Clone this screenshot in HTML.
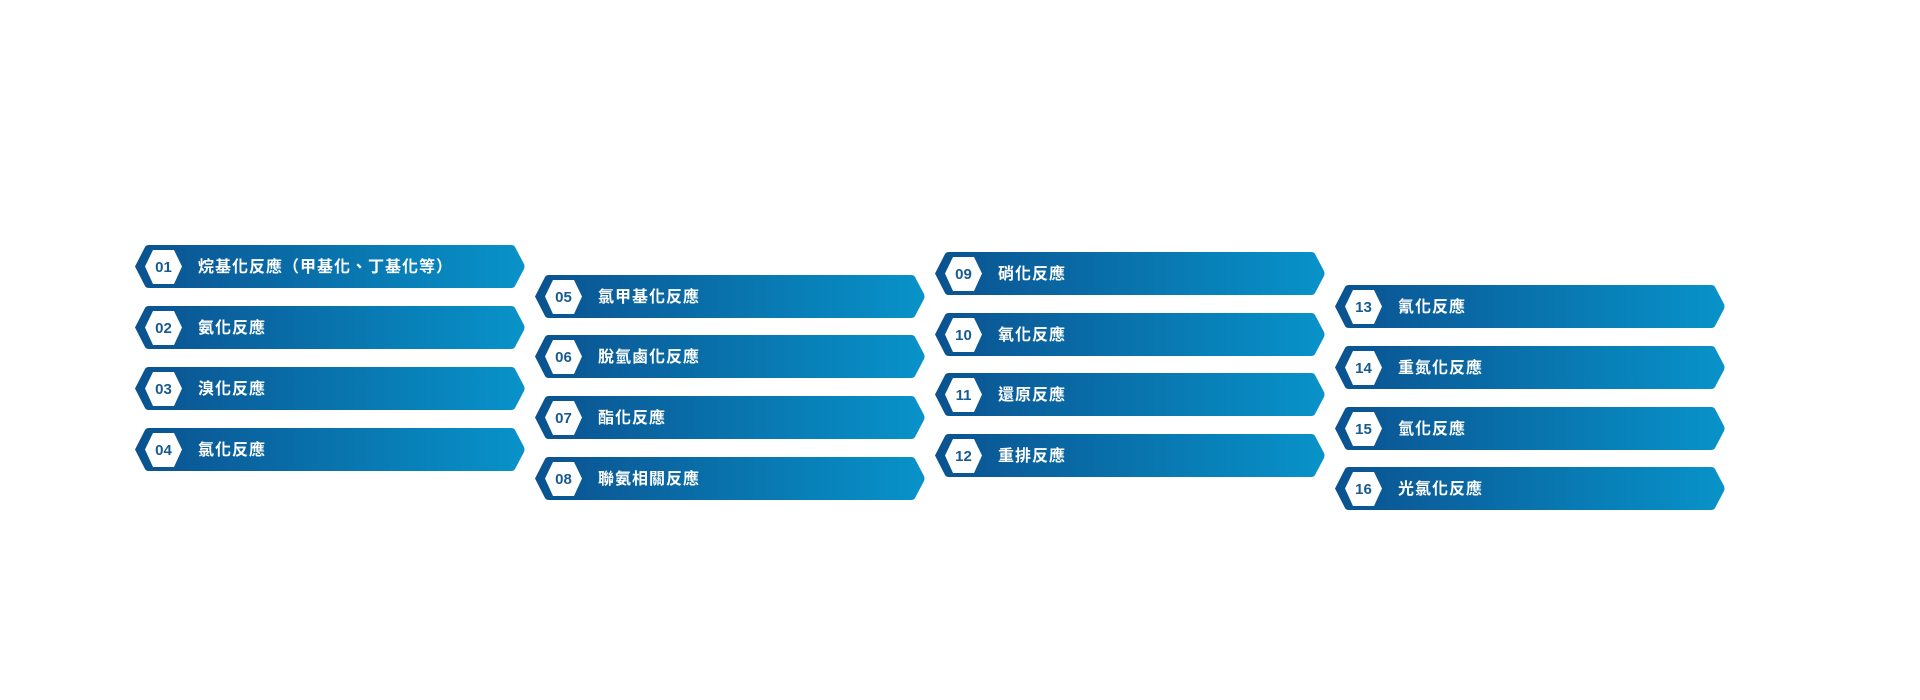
<!DOCTYPE html>
<html><head><meta charset="utf-8"><style>
html,body{margin:0;padding:0;background:#fff;width:1920px;height:700px;overflow:hidden}
svg{display:block}
.n{font-family:"Liberation Sans",sans-serif;font-weight:bold;font-size:15px;fill:#175b8e}
.t{font-family:"Liberation Sans","Noto Sans CJK TC",sans-serif;font-weight:bold;font-size:16px;fill:#fff;letter-spacing:1px}
</style></head><body>
<svg width="1920" height="700" xmlns="http://www.w3.org/2000/svg">
<defs>
<linearGradient id="g" x1="0" x2="1" y1="0" y2="0">
<stop offset="0" stop-color="#0a5290"/><stop offset="1" stop-color="#0893c9"/>
</linearGradient>
<g id="b">
<path d="M1,21.5 L11,2 Q12,0 15,0 L377,0 Q380,0 381,2 L390,19 Q391,21.5 390,24 L381,41 Q380,43 377,43 L15,43 Q12,43 11,41 Z" fill="url(#g)"/>
<path d="M11,21.5 L19,5 L40,5 L48,21.5 L40,39 L19,39 Z" fill="#fff"/>
</g>
</defs>
<g transform="translate(134,245)"><use href="#b"/><text class="n" x="29.5" y="27" text-anchor="middle">01</text><text class="t" x="64" y="27">烷基化反應（甲基化、丁基化等）</text></g>
<g transform="translate(134,306)"><use href="#b"/><text class="n" x="29.5" y="27" text-anchor="middle">02</text><text class="t" x="64" y="27">氨化反應</text></g>
<g transform="translate(134,367)"><use href="#b"/><text class="n" x="29.5" y="27" text-anchor="middle">03</text><text class="t" x="64" y="27">溴化反應</text></g>
<g transform="translate(134,428)"><use href="#b"/><text class="n" x="29.5" y="27" text-anchor="middle">04</text><text class="t" x="64" y="27">氯化反應</text></g>

<g transform="translate(534,275)"><use href="#b"/><text class="n" x="29.5" y="27" text-anchor="middle">05</text><text class="t" x="64" y="27">氯甲基化反應</text></g>
<g transform="translate(534,335)"><use href="#b"/><text class="n" x="29.5" y="27" text-anchor="middle">06</text><text class="t" x="64" y="27">脫氫鹵化反應</text></g>
<g transform="translate(534,396)"><use href="#b"/><text class="n" x="29.5" y="27" text-anchor="middle">07</text><text class="t" x="64" y="27">酯化反應</text></g>
<g transform="translate(534,457)"><use href="#b"/><text class="n" x="29.5" y="27" text-anchor="middle">08</text><text class="t" x="64" y="27">聯氨相關反應</text></g>

<g transform="translate(934,252)"><use href="#b"/><text class="n" x="29.5" y="27" text-anchor="middle">09</text><text class="t" x="64" y="27">硝化反應</text></g>
<g transform="translate(934,313)"><use href="#b"/><text class="n" x="29.5" y="27" text-anchor="middle">10</text><text class="t" x="64" y="27">氧化反應</text></g>
<g transform="translate(934,373)"><use href="#b"/><text class="n" x="29.5" y="27" text-anchor="middle">11</text><text class="t" x="64" y="27">還原反應</text></g>
<g transform="translate(934,434)"><use href="#b"/><text class="n" x="29.5" y="27" text-anchor="middle">12</text><text class="t" x="64" y="27">重排反應</text></g>

<g transform="translate(1334,285)"><use href="#b"/><text class="n" x="29.5" y="27" text-anchor="middle">13</text><text class="t" x="64" y="27">氰化反應</text></g>
<g transform="translate(1334,346)"><use href="#b"/><text class="n" x="29.5" y="27" text-anchor="middle">14</text><text class="t" x="64" y="27">重氮化反應</text></g>
<g transform="translate(1334,407)"><use href="#b"/><text class="n" x="29.5" y="27" text-anchor="middle">15</text><text class="t" x="64" y="27">氫化反應</text></g>
<g transform="translate(1334,467)"><use href="#b"/><text class="n" x="29.5" y="27" text-anchor="middle">16</text><text class="t" x="64" y="27">光氯化反應</text></g>
</svg>
</body></html>
